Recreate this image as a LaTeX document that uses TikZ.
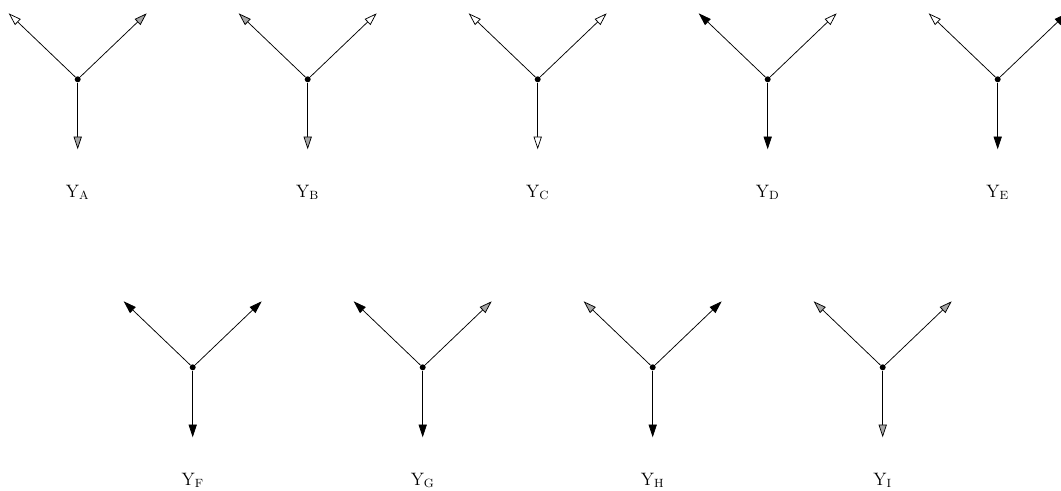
\documentclass[tikz,border=0pt]{standalone}
\usetikzlibrary{positioning,arrows.meta,calc}

\begin{document}
\begin{tikzpicture}[
  x=0.0235cm,y=-0.0235cm,
  font=\large,
  dot/.style={circle,fill=black,inner sep=0pt,minimum size=4pt},
  lab/.style={inner sep=1pt},
  arm/.style={line width=0.5pt},
  wt/.style={arm,-{Triangle[length=8.5pt,width=5.5pt,fill=white]}},
  gt/.style={arm,-{Triangle[length=8.5pt,width=5.5pt,fill=black!35]}},
  bt/.style={arm,-{Triangle[length=8.5pt,width=5.5pt,fill=black]}},
]
\useasboundingbox (0,0) rectangle (1061,490);
% top row
% Y_A
\node[dot] (ja) at (77.7,79.3) {};
\coordinate (ja-l) at ($(ja)+(-69,-66)$);
\coordinate (ja-r) at ($(ja)+(69,-66)$);
\coordinate (ja-b) at ($(ja)+(0,70)$);
\draw[wt] (ja) -- (ja-l);
\draw[gt] (ja) -- (ja-r);
\draw[gt] (ja) -- (ja-b);
\node[lab] (la) at ($(ja)+(0,113)$) {$\mathrm{Y_A}$};
% Y_B
\node[dot] (jb) at (307.7,79.3) {};
\coordinate (jb-l) at ($(jb)+(-69,-66)$);
\coordinate (jb-r) at ($(jb)+(69,-66)$);
\coordinate (jb-b) at ($(jb)+(0,70)$);
\draw[gt] (jb) -- (jb-l);
\draw[wt] (jb) -- (jb-r);
\draw[gt] (jb) -- (jb-b);
\node[lab] (lb) at ($(jb)+(0,113)$) {$\mathrm{Y_B}$};
% Y_C
\node[dot] (jc) at (537.7,79.3) {};
\coordinate (jc-l) at ($(jc)+(-69,-66)$);
\coordinate (jc-r) at ($(jc)+(69,-66)$);
\coordinate (jc-b) at ($(jc)+(0,70)$);
\draw[wt] (jc) -- (jc-l);
\draw[wt] (jc) -- (jc-r);
\draw[wt] (jc) -- (jc-b);
\node[lab] (lc) at ($(jc)+(0,113)$) {$\mathrm{Y_C}$};
% Y_D
\node[dot] (jd) at (767.7,79.3) {};
\coordinate (jd-l) at ($(jd)+(-69,-66)$);
\coordinate (jd-r) at ($(jd)+(69,-66)$);
\coordinate (jd-b) at ($(jd)+(0,70)$);
\draw[bt] (jd) -- (jd-l);
\draw[wt] (jd) -- (jd-r);
\draw[bt] (jd) -- (jd-b);
\node[lab] (ld) at ($(jd)+(0,113)$) {$\mathrm{Y_D}$};
% Y_E (right tip runs off the edge)
\node[dot] (je) at (997.7,79.3) {};
\coordinate (je-l) at ($(je)+(-69,-66)$);
\coordinate (je-r) at ($(je)+(69,-66)$);
\coordinate (je-b) at ($(je)+(0,70)$);
\draw[wt] (je) -- (je-l);
\draw[bt] (je) -- (je-r);
\draw[bt] (je) -- (je-b);
\node[lab] (le) at ($(je)+(0,113)$) {$\mathrm{Y_E}$};
% bottom row
% Y_F
\node[dot] (jf) at (192.7,367.3) {};
\coordinate (jf-l) at ($(jf)+(-69,-66)$);
\coordinate (jf-r) at ($(jf)+(69,-66)$);
\coordinate (jf-b) at ($(jf)+(0,70)$);
\draw[bt] (jf) -- (jf-l);
\draw[bt] (jf) -- (jf-r);
\draw[bt] (jf) -- (jf-b);
\node[lab] (lf) at ($(jf)+(0,113)$) {$\mathrm{Y_F}$};
% Y_G
\node[dot] (jg) at (422.7,367.3) {};
\coordinate (jg-l) at ($(jg)+(-69,-66)$);
\coordinate (jg-r) at ($(jg)+(69,-66)$);
\coordinate (jg-b) at ($(jg)+(0,70)$);
\draw[bt] (jg) -- (jg-l);
\draw[gt] (jg) -- (jg-r);
\draw[bt] (jg) -- (jg-b);
\node[lab] (lg) at ($(jg)+(0,113)$) {$\mathrm{Y_G}$};
% Y_H
\node[dot] (jh) at (652.7,367.3) {};
\coordinate (jh-l) at ($(jh)+(-69,-66)$);
\coordinate (jh-r) at ($(jh)+(69,-66)$);
\coordinate (jh-b) at ($(jh)+(0,70)$);
\draw[gt] (jh) -- (jh-l);
\draw[bt] (jh) -- (jh-r);
\draw[bt] (jh) -- (jh-b);
\node[lab] (lh) at ($(jh)+(0,113)$) {$\mathrm{Y_H}$};
% Y_I
\node[dot] (ji) at (882.7,367.3) {};
\coordinate (ji-l) at ($(ji)+(-69,-66)$);
\coordinate (ji-r) at ($(ji)+(69,-66)$);
\coordinate (ji-b) at ($(ji)+(0,70)$);
\draw[gt] (ji) -- (ji-l);
\draw[gt] (ji) -- (ji-r);
\draw[gt] (ji) -- (ji-b);
\node[lab] (li) at ($(ji)+(0,113)$) {$\mathrm{Y_I}$};
\end{tikzpicture}
\end{document}
